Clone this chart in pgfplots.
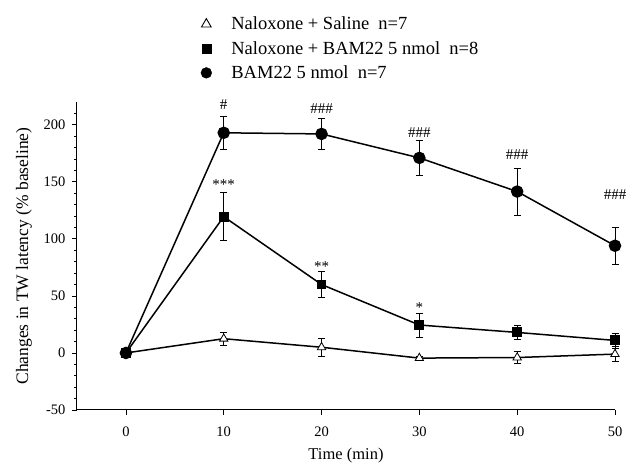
\documentclass[border=0pt]{standalone}
\usepackage{pgfplots}
\pgfplotsset{compat=1.18}
\usepackage{fontspec}
\setmainfont{Liberation Serif}
\begin{document}
\begin{tikzpicture}
\begin{axis}[
  scale only axis, width=538pt, height=308pt,
  xmin=-5, xmax=50, ymin=-50, ymax=220,
  axis x line=bottom, axis y line=left,
  axis line style={-, line width=1pt},
  tick align=outside, tick style={black, line width=0.8pt},
  major tick length=5pt, minor tick length=3pt,
  xtick={0,10,20,30,40,50},
  ytick={-50,0,50,100,150,200},
  minor ytick={-40,-30,...,210},
  /pgf/number format/assume math mode=true,
  tick label style={font=\fontsize{14.5}{16}\selectfont},
  xticklabel style={yshift=-8pt},
  yticklabel style={xshift=-3pt},
  label style={font=\fontsize{17.5}{19}\selectfont},
  xlabel={Time (min)},
  ylabel={Changes in TW latency (\% baseline)},
  xlabel style={yshift=-5pt, font=\fontsize{16.5}{18}\selectfont},
  ylabel style={yshift=5pt},
  clip=false,
  legend style={at={(0.23,1.283)}, anchor=north west, draw=none, fill=none,
    font=\fontsize{18.5}{20}\selectfont, row sep=6pt,
    inner sep=0pt, legend cell align=left},
  legend image code/.code={\path[draw=none] (0cm,0cm) -- (0.95cm,0cm); \draw[#1] plot coordinates {(0.14cm,0cm)};},
]
\addlegendimage{only marks, mark=triangle*, mark options={fill=white, draw=black, line width=0.9pt}, mark size=5.6pt}
\addlegendentry{Naloxone + Saline\ \ n=7}
\addlegendimage{only marks, mark=square*, mark options={fill=black}, mark size=4.6pt}
\addlegendentry{Naloxone + BAM22 5 nmol\ \ n=8}
\addlegendimage{only marks, mark=*, mark options={fill=black}, mark size=5.4pt}
\addlegendentry{BAM22 5 nmol\ \ n=7}

% BAM22 5 nmol (circles)
\addplot[forget plot, black, line width=1.5pt, mark=*, mark size=5.5pt,
  error bars/.cd, y dir=both, y explicit,
  error bar style={line width=0.6pt}, error mark options={rotate=90, mark size=3.5pt, line width=0.6pt}]
  coordinates {
  (0,0) +- (0,0)
  (10,193) +- (0,14.5)
  (20,192) +- (0,13.5)
  (30,171) +- (0,15)
  (40,141.5) +- (0,20.5)
  (50,94) +- (0,16.5)
};
% Naloxone + BAM22 (squares)
\addplot[forget plot, black, line width=1.5pt, mark=square*, mark size=4.2pt,
  error bars/.cd, y dir=both, y explicit,
  error bar style={line width=0.6pt}, error mark options={rotate=90, mark size=3.5pt, line width=0.6pt}]
  coordinates {
  (0,0) +- (0,0)
  (10,119.5) +- (0,21)
  (20,60) +- (0,11.5)
  (30,24.5) +- (0,10.5)
  (40,18) +- (0,6)
  (50,11) +- (0,6.5)
};
% Naloxone + Saline (triangles)
\addplot[forget plot, black, line width=1.5pt, mark=triangle*, mark size=4.8pt,
  mark options={fill=white, line width=0.8pt},
  error bars/.cd, y dir=both, y explicit,
  error bar style={line width=0.6pt}, error mark options={rotate=90, mark size=3.5pt, line width=0.6pt}]
  coordinates {
  (0,0) +- (0,0)
  (10,12.5) +- (0,5.5)
  (20,5) +- (0,7.5)
  (30,-4.5) +- (0,2)
  (40,-4) +- (0,5.5)
  (50,-1) +- (0,6.5)
};
% redraw the starting circle on top
\addplot[forget plot, only marks, black, mark=*, mark size=5.5pt] coordinates {(0,0)};

\begin{scope}[every node/.style={font=\fontsize{15}{16}\selectfont, inner sep=0pt}]
\node at (axis cs:10,218) {\#};
\node at (axis cs:20,214) {\#\#\#};
\node at (axis cs:30,193) {\#\#\#};
\node at (axis cs:40,174) {\#\#\#};
\node at (axis cs:50,139) {\#\#\#};
\node at (axis cs:10,148) {***};
\node at (axis cs:20,76) {**};
\node at (axis cs:30,40) {*};
\end{scope}
\coordinate (sw) at (rel axis cs:0,0);
\coordinate (ne) at (rel axis cs:1,1);
\end{axis}
\pgfresetboundingbox
\path[use as bounding box] ([shift={(-77pt,-55pt)}]sw) rectangle ([shift={(27pt,102pt)}]ne);
\end{tikzpicture}
\end{document}
